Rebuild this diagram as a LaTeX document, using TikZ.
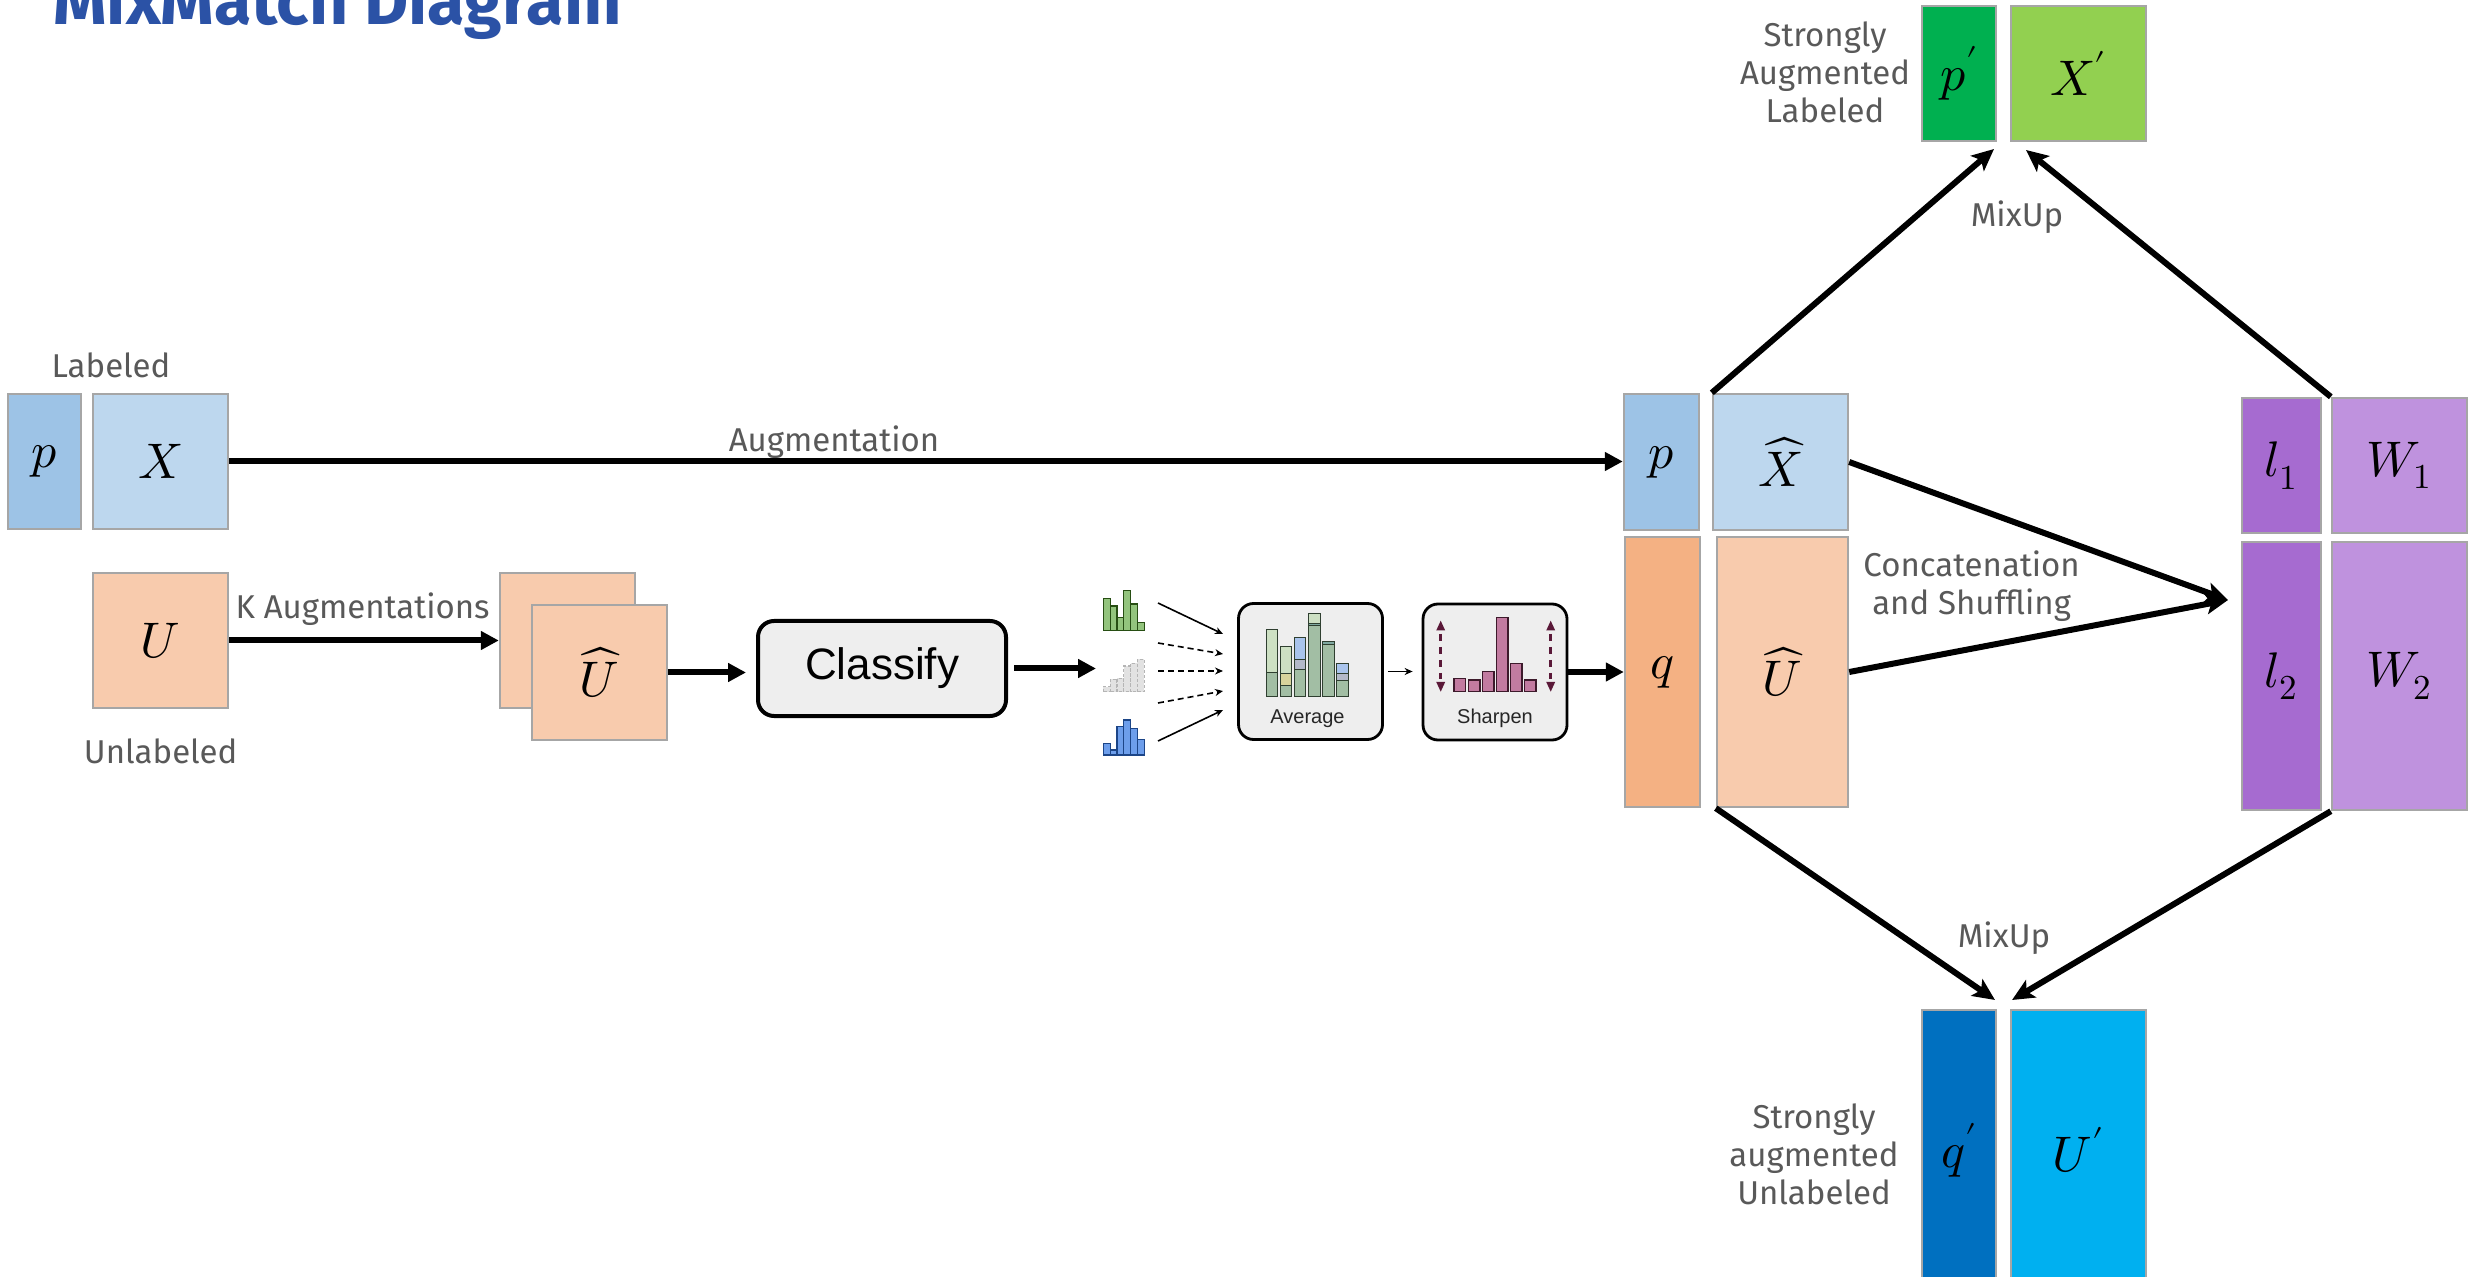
\documentclass[tikz,border=0pt]{standalone}
\usepackage{graphicx}
\usepackage{fontspec}
\usepackage{unicode-math}
\usetikzlibrary{arrows.meta}
\setmainfont{Fira Sans}
\newfontfamily\labelfont{Fira Sans}
\newfontfamily\iconfont{Liberation Sans}
\newcommand\boxletters{\fontsize{25}{30}\selectfont}

\definecolor{edgegray}{HTML}{A6A6A6}
\definecolor{labelgray}{HTML}{595959}
\definecolor{titleblue}{HTML}{2B52A6}
\definecolor{pblue}{HTML}{9DC3E6}
\definecolor{xblue}{HTML}{BDD7EE}
\definecolor{upeach}{HTML}{F8CBAD}
\definecolor{qorange}{HTML}{F4B183}
\definecolor{lpurple}{HTML}{A66BD0}
\definecolor{wpurple}{HTML}{BF92DE}
\definecolor{pgreen}{HTML}{00B050}
\definecolor{xgreen}{HTML}{92D050}
\definecolor{qdeep}{HTML}{0070C0}
\definecolor{ucyan}{HTML}{00B0F0}
\definecolor{iconbg}{HTML}{EEEEEE}
\definecolor{hgreen}{HTML}{93C47D}
\definecolor{hgreendark}{HTML}{274E13}
\definecolor{hblue}{HTML}{6D9EEB}
\definecolor{hbluedark}{HTML}{1C4587}
\definecolor{hgrey}{HTML}{E2E2E2}
\definecolor{hgreyedge}{HTML}{B5B5B5}
\definecolor{avlight}{HTML}{CDE0C3}
\definecolor{avdark}{HTML}{A2BEA4}
\definecolor{avyellow}{HTML}{D8D49C}
\definecolor{avblue}{HTML}{A9C4EC}
\definecolor{avslate}{HTML}{B3B9C9}
\definecolor{avteal}{HTML}{7FA8A0}
\definecolor{avedge}{HTML}{2F3F30}
\definecolor{shpink}{HTML}{C27BA0}
\definecolor{shedge}{HTML}{3D1A2B}
\definecolor{maroon}{HTML}{5A1838}

\tikzset{
  cell/.style 2 args={draw=edgegray, line width=1.2pt, inner sep=0pt,
    minimum width=#1, minimum height=#2, font=\boxletters},
  lbl/.style={text=labelgray, inner sep=0pt,
    font=\labelfont\fontsize{16.5}{19}\selectfont},
  bigarrow/.style={line width=3pt, -{Triangle[length=9pt,width=9pt]}},
  diagarrow/.style={line width=3pt, -{Stealth[length=11pt,width=10pt,inset=2.5pt]}},
  thinarrow/.style={line width=0.8pt, -{Stealth[length=4pt,width=3.5pt]}},
  iconbox/.style={draw=black, line width=1.4pt, fill=iconbg, rounded corners=7.5pt,
    minimum width=72pt, minimum height=68pt, inner sep=0pt},
  iconlbl/.style={font=\iconfont\fontsize{10}{12}\selectfont, text=black!85, inner sep=0pt},
  avbar/.style={draw=avedge, line width=0.5pt},
}

\begin{document}
\begin{tikzpicture}[x=0.5pt, y=-0.5pt]
\useasboundingbox (0,0) rectangle (2483,1277);
\fill[white] (0,0) rectangle (2483,1277);

% title, cut by the top edge
\node[anchor=base west, inner sep=0pt, text=titleblue] (title) at (53,25)
  {\resizebox{284pt}{!}{\labelfont\bfseries MixMatch Diagram}};

% ---------- inputs ----------
\node[cell={36.5pt}{67.5pt}, fill=pblue] (pL) at (44.5,461.5) {$p$};
\node[cell={67.5pt}{67.5pt}, fill=xblue] (XL) at (160.5,461.5) {$X$};
\node[lbl, anchor=base] (labeled) at (111,378) {Labeled};

\node[cell={67.5pt}{67.5pt}, fill=upeach] (UL) at (160.5,640.5) {$U$};
\node[lbl, anchor=base] (unlabeled) at (160.7,763) {Unlabeled};

% ---------- K augmentations ----------
\node[cell={67.5pt}{67.5pt}, fill=upeach] (Uback) at (567.5,640.5) {};
\node[cell={67.5pt}{67.5pt}, fill=upeach] (Ufront) at (599.5,672.5) {$\widehat{U}$};
\draw[bigarrow] (UL.east) -- (UL.east -| Uback.west);
\node[lbl, anchor=base] (kaug) at (362.6,619) {K Augmentations};

% ---------- classifier ----------
\node[draw=black, line width=2pt, fill=iconbg, rounded corners=8pt,
      minimum width=124pt, minimum height=47.5pt, inner sep=0pt,
      font=\iconfont\fontsize{22}{24}\selectfont] (classify) at (882,668.5) {Classify};
\draw[bigarrow, shorten >=5pt] (Ufront.east) -- (Ufront.east -| classify.west);
\coordinate (histin) at (1096,671);
\draw[bigarrow, shorten <=3pt] (classify.east) -- (classify.east -| histin);

% ---------- per-augmentation predictions ----------
\foreach \t [count=\i from 0] in {598.3,606,617.3,590.7,604,622.7}
  \draw[fill=hgreen, draw=hgreendark, line width=0.6pt]
    ({1103.3+6.8*\i},630.7) rectangle ({1103.3+6.8*(\i+1)},\t);
\foreach \t [count=\i from 0] in {686.7,679.3,678.3,666,663.3,659.3}
  \draw[fill=hgrey, draw=hgreyedge, line width=0.6pt, dash pattern=on 1.5pt off 1pt]
    ({1103.3+6.8*\i},691.7) rectangle ({1103.3+6.8*(\i+1)},\t);
\foreach \t [count=\i from 0] in {743.3,750,726.7,720,728.3,739.3}
  \draw[fill=hblue, draw=hbluedark, line width=0.6pt]
    ({1103.3+6.8*\i},755) rectangle ({1103.3+6.8*(\i+1)},\t);

% ---------- average ----------
\node[iconbox] (avg) at (1310.5,671.5) {};
\node[iconlbl, anchor=base] (avglbl) at (1307.5,724) {Average};

\coordinate (a1s) at (1158,603);  \coordinate (a1e) at (1223,634);
\coordinate (a2s) at (1158,643);  \coordinate (a2e) at (1223,654);
\coordinate (a3s) at (1158,671);  \coordinate (a3e) at (1223,671);
\coordinate (a4s) at (1158,703);  \coordinate (a4e) at (1223,691);
\coordinate (a5s) at (1158,741);  \coordinate (a5e) at (1223,710);
\draw[thinarrow] (a1s) -- (a1e);
\draw[thinarrow, dash pattern=on 3pt off 2pt] (a2s) -- (a2e);
\draw[thinarrow, dash pattern=on 3pt off 2pt] (a3s) -- (a3e);
\draw[thinarrow, dash pattern=on 3pt off 2pt] (a4s) -- (a4e);
\draw[thinarrow] (a5s) -- (a5e);

% averaged histogram
\draw[avbar, fill=avlight]  (1266,630) rectangle (1277.7,672.3);
\draw[avbar, fill=avdark]   (1266,672.3) rectangle (1277.7,696.7);
\draw[avbar, fill=avlight]  (1280.3,646.7) rectangle (1291.7,674);
\draw[avbar, fill=avyellow] (1280.3,674) rectangle (1291.7,686);
\draw[avbar, fill=avdark]   (1280.3,686) rectangle (1291.7,696.7);
\draw[avbar, fill=avblue]   (1294.3,637.3) rectangle (1305.7,659.3);
\draw[avbar, fill=avslate]  (1294.3,659.3) rectangle (1305.7,669.3);
\draw[avbar, fill=avdark]   (1294.3,669.3) rectangle (1305.7,696.7);
\draw[avbar, fill=avlight]  (1308.3,614) rectangle (1320,624);
\draw[avbar, fill=avteal]   (1308.3,624) rectangle (1320,626);
\draw[avbar, fill=avdark]   (1308.3,626) rectangle (1320,696.7);
\draw[avbar, fill=avteal]   (1322.7,641.3) rectangle (1334,645);
\draw[avbar, fill=avdark]   (1322.7,645) rectangle (1334,696.7);
\draw[avbar, fill=avblue]   (1336.7,663.3) rectangle (1348.3,674);
\draw[avbar, fill=avslate]  (1336.7,674) rectangle (1348.3,681);
\draw[avbar, fill=avdark]   (1336.7,681) rectangle (1348.3,696.7);

% ---------- sharpen ----------
\node[iconbox] (sharp) at (1495,672) {};
\node[iconlbl, anchor=base] (sharplbl) at (1495,723.3) {Sharpen};
\draw[thinarrow, shorten <=2pt, shorten >=4.5pt] (avg.east) -- (avg.east -| sharp.west);

\foreach \a/\b/\t in {1454/1465.7/678.3, 1468.3/1480/680, 1482.3/1494/671.7,
                     1496.3/1508/617.3, 1510.3/1522/663.3, 1524.3/1536/680}
  \draw[fill=shpink, draw=shedge, line width=0.6pt] (\a,691.7) rectangle (\b,\t);
\foreach \xx in {1440.7,1550.7}{
  \fill[maroon] (\xx,620.7) -- (\xx-4.5,630.5) -- (\xx+4.5,630.5) -- cycle;
  \fill[maroon] (\xx,691.7) -- (\xx-4.5,681.9) -- (\xx+4.5,681.9) -- cycle;
  \draw[maroon, line width=1.3pt, dash pattern=on 3.5pt off 3pt] (\xx,634) -- (\xx,679);
}

% ---------- augmented batch ----------
\node[cell={37.5pt}{68pt}, fill=pblue] (pR) at (1661.5,462) {$p$};
\node[cell={67.5pt}{68pt}, fill=xblue] (XR) at (1780.5,462) {$\widehat{X}$};
\node[cell={37.5pt}{135pt}, fill=qorange] (qR) at (1662.5,672) {$q$};
\node[cell={65.5pt}{135pt}, fill=upeach] (UR) at (1782.5,672) {$\widehat{U}$};

\draw[bigarrow] (XL.east) -- (XL.east -| pR.west);
\node[lbl, anchor=base] (auglbl) at (834,452) {Augmentation};
\draw[bigarrow] (sharp.east) -- (sharp.east -| qR.west);

% ---------- concatenated, shuffled batch ----------
\node[cell={39.5pt}{67.5pt}, fill=lpurple] (l1) at (2281.5,465.5) {$l_1$};
\node[cell={67.5pt}{67.5pt}, fill=wpurple] (W1) at (2399.5,465.5) {$W_1$};
\node[cell={39.5pt}{134pt}, fill=lpurple] (l2) at (2281.5,676) {$l_2$};
\node[cell={67.5pt}{134pt}, fill=wpurple] (W2) at (2399.5,676) {$W_2$};

\coordinate (cat) at (2228,600);
\draw[diagarrow] (XR.east) -- (cat);
\draw[diagarrow] (UR.east) -- (cat);
\node[lbl, anchor=base] (catlbl) at (1971.6,577)
  {\begin{tabular}[t]{@{}c@{}}Concatenation\\and Shuffling\end{tabular}};

% ---------- MixUp outputs ----------
\node[cell={37pt}{67.5pt}, fill=pgreen] (pp) at (1959,73.5) {$p'$};
\node[cell={67.5pt}{67.5pt}, fill=xgreen] (Xp) at (2078.5,73.5) {$X'$};
\node[lbl, anchor=base] (toplbl) at (1825,47)
  {\begin{tabular}[t]{@{}c@{}}Strongly\\Augmented\\Labeled\end{tabular}};

\coordinate (mxa) at (1994,149);
\coordinate (mxb) at (2026,150);
\draw[diagarrow] (XR.north west) -- (mxa);
\draw[diagarrow] (W1.north west) -- (mxb);
\node[lbl, anchor=base] (mixtop) at (2017,227) {MixUp};

\node[cell={37pt}{140pt}, fill=qdeep] (qp) at (1959,1150) {$q'$};
\node[cell={67.5pt}{140pt}, fill=ucyan] (Up) at (2078.5,1150) {$U'$};
\node[lbl, anchor=base] (botlbl) at (1814,1128)
  {\begin{tabular}[t]{@{}c@{}}Strongly\\augmented\\Unlabeled\end{tabular}};

\coordinate (mxc) at (1995,1000);
\coordinate (mxd) at (2012,1000);
\draw[diagarrow] (UR.south west) -- (mxc);
\draw[diagarrow] (W2.south west) -- (mxd);
\node[lbl, anchor=base] (mixbot) at (2004,947) {MixUp};
\end{tikzpicture}
\end{document}
